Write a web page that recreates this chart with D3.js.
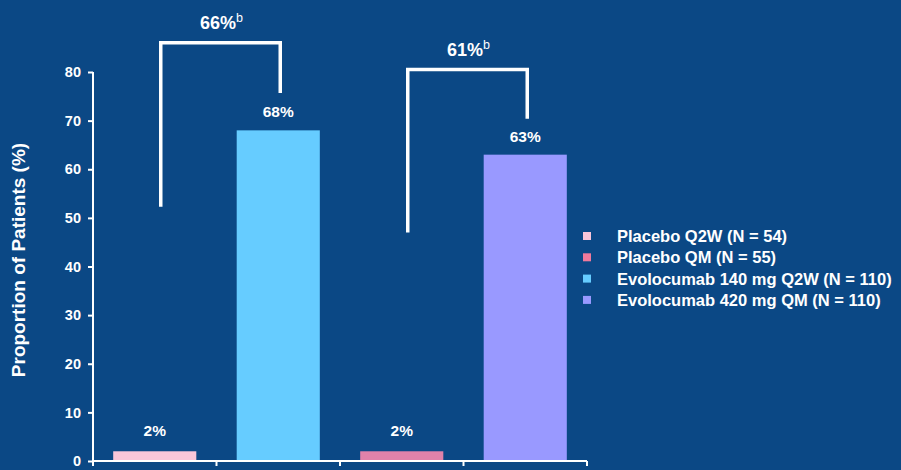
<!DOCTYPE html>
<html>
<head>
<meta charset="utf-8">
<script src="https://cdn.jsdelivr.net/npm/d3@7"></script>
<style>
  html, body { margin: 0; padding: 0; background: #0B4885; }
  svg { display: block; }
  text { font-family: "Liberation Sans", Arial, Helvetica, sans-serif; font-weight: bold; fill: #ffffff; }
</style>
</head>
<body>
<svg id="chart" width="901" height="470"></svg>
<script>
// Responders by treatment arm
const groups = ["Placebo Q2W (N = 54)", "Evolocumab 140 mg Q2W (N = 110)", "Placebo QM (N = 55)", "Evolocumab 420 mg QM (N = 110)"];
const values = [2, 68, 2, 63];
const barColors = ["#F9C6DA", "#66CCFF", "#E082AA", "#9999FF"];

// Legend order and swatches
const legendLabels = ["Placebo Q2W (N = 54)", "Placebo QM (N = 55)", "Evolocumab 140 mg Q2W (N = 110)", "Evolocumab 420 mg QM (N = 110)"];
const legendColors = ["#F9C6DA", "#F07A9C", "#66CCFF", "#9999FF"];

const yTicks = [0, 10, 20, 30, 40, 50, 60, 70, 80];

// Treatment differences: placebo bar index, active bar index, label, bracket levels (in %)
const diffLabels = ["66%", "61%"];
const diffPairs = [[0, 1], [2, 3]];
const bracketTop = [86, 80.5];
const bracketLeftEnd = [52.3, 47];
const bracketRightEnd = [75.7, 70.4];

const svg = d3.select("#chart");
const x0 = 93, x1 = 587, yBase = 461, yTop = 72;

const x = d3.scaleBand().domain(groups).range([x0, x1]).paddingInner(0.327).paddingOuter(0.1635);
const y = d3.scaleLinear().domain([0, 80]).range([yBase, yTop]);
const band = d3.scaleBand().domain(groups).range([x0, x1]);

// Bars
svg.selectAll("rect.bar").data(values).join("rect")
  .attr("class", "bar")
  .attr("x", (d, i) => x(groups[i]))
  .attr("width", x.bandwidth())
  .attr("y", d => y(d))
  .attr("height", d => yBase - y(d))
  .attr("fill", (d, i) => barColors[i]);

// Value labels
svg.selectAll("text.val").data(values).join("text")
  .attr("class", "val")
  .attr("x", (d, i) => x(groups[i]) + x.bandwidth() / 2)
  .attr("y", d => y(d) - (d < 10 ? 15 : 13))
  .attr("text-anchor", "middle")
  .attr("font-size", 15.5)
  .text(d => d + "%");

// Y axis
const yAxis = svg.append("g").attr("transform", `translate(${x0},0)`)
  .call(d3.axisLeft(y).tickValues(yTicks).tickSize(5).tickPadding(7));
yAxis.select(".domain").attr("stroke", "#fff").attr("stroke-width", 2).attr("d", `M-0,${yTop}V${yBase}`);
yAxis.selectAll(".tick line").attr("stroke", "#fff").attr("stroke-width", 2);
yAxis.selectAll(".tick text").attr("fill", "#fff").attr("font-size", 14.5).attr("font-weight", "bold")
  .attr("font-family", "'Liberation Sans', Arial, sans-serif");

// X axis (no labels, ticks at band edges)
const xAxis = svg.append("g").attr("transform", `translate(0,${yBase})`);
xAxis.append("line").attr("x1", x0).attr("x2", x1).attr("y1", 0).attr("y2", 0)
  .attr("stroke", "#fff").attr("stroke-width", 2);
const edges = groups.map(g => band(g)).concat([x1]);
xAxis.selectAll("line.tick").data(edges).join("line")
  .attr("class", "tick")
  .attr("x1", d => d).attr("x2", d => d).attr("y1", 0).attr("y2", 5)
  .attr("stroke", "#fff").attr("stroke-width", 2);

// Y axis title
svg.append("text")
  .attr("transform", `translate(25,260) rotate(-90)`)
  .attr("text-anchor", "middle")
  .attr("font-size", 19)
  .text("Proportion of Patients (%)");

// Comparison brackets
diffPairs.forEach((p, i) => {
  const xl = x(groups[p[0]]) + x.bandwidth() / 2 + 6;
  const xr = x(groups[p[1]]) + x.bandwidth() / 2 + 2;
  const yt = y(bracketTop[i]);
  svg.append("path")
    .attr("d", `M${xl},${y(bracketLeftEnd[i])}V${yt}H${xr}V${y(bracketRightEnd[i])}`)
    .attr("fill", "none").attr("stroke", "#fff").attr("stroke-width", 3.5);
  const t = svg.append("text")
    .attr("x", (xl + xr) / 2 + 1)
    .attr("y", yt - 14)
    .attr("text-anchor", "middle")
    .attr("font-size", 18);
  t.append("tspan").text(diffLabels[i]);
  t.append("tspan").attr("font-size", 12.5).attr("font-weight", "normal").attr("dy", -7).text("b");
});

// Legend
const legend = svg.append("g").attr("transform", "translate(583,236)");
const rows = legend.selectAll("g").data(legendLabels).join("g")
  .attr("transform", (d, i) => `translate(0,${i * 21.3})`);
rows.append("rect").attr("x", 0).attr("y", -4).attr("width", 8).attr("height", 8)
  .attr("fill", (d, i) => legendColors[i]);
rows.append("text").attr("x", 34).attr("y", 6).attr("font-size", 16.5).text(d => d);
</script>
</body>
</html>
